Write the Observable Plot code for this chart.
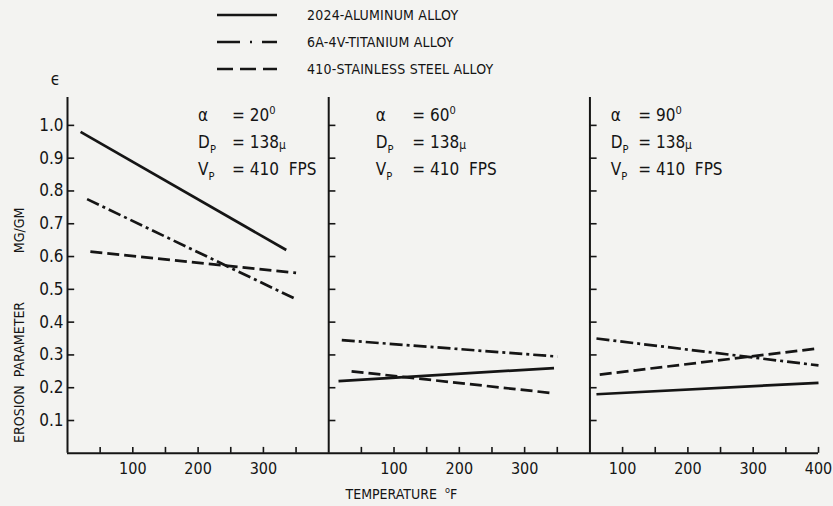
<!DOCTYPE html>
<html><head><meta charset="utf-8">
<script src="https://cdn.jsdelivr.net/npm/d3@7"></script>
<script src="https://cdn.jsdelivr.net/npm/@observablehq/plot@0.6"></script>
<style>
html,body{margin:0;padding:0;background:#f3f3f1;}
#wrap{position:relative;width:833px;height:506px;overflow:hidden;font-family:"Liberation Sans Narrow","DejaVu Sans Condensed",sans-serif;color:#141414;}
#chart{position:absolute;left:0;top:0;}
#chart svg text{white-space:pre;}
#legend{position:absolute;left:217px;top:0;}
.row{position:absolute;left:0;height:20px;display:flex;align-items:center;white-space:nowrap;font-size:14px;letter-spacing:0.2px;}
.row svg{margin-right:30px;display:block;}
</style></head><body>
<div id="wrap"><div id="chart"></div><div id="legend"></div></div>
<script>
// ---- data ----
const alloys = ["2024-ALUMINUM ALLOY", "6A-4V-TITANIUM ALLOY", "410-STAINLESS STEEL ALLOY"];
const panelAngles = [20, 60, 90];
const particleDiameter = "138";
const particleVelocity = "410";
const panelTempRange = [[0, 400], [0, 400], [50, 400]];

const aluminumTemp    = [[20, 335], [15, 345], [60, 400]];
const aluminumErosion = [[0.98, 0.62], [0.22, 0.26], [0.18, 0.215]];
const titaniumTemp    = [[30, 350], [20, 350], [60, 400]];
const titaniumErosion = [[0.775, 0.47], [0.345, 0.295], [0.35, 0.268]];
const stainlessTemp    = [[35, 350], [35, 345], [65, 400]];
const stainlessErosion = [[0.615, 0.55], [0.25, 0.183], [0.24, 0.32]];

const yTicks = [0.1, 0.2, 0.3, 0.4, 0.5, 0.6, 0.7, 0.8, 0.9, 1.0];
const xMinorTicks = [[50, 100, 150, 200, 250, 300, 350], [50, 100, 150, 200, 250, 300, 350], [100, 150, 200, 250, 300, 350, 400]];
const xTickLabels = [[100, 200, 300], [100, 200, 300], [100, 200, 300, 400]];

// ---- derived ----
const ink = "#151515";
const dashStyles = ["none", "13,4,3,4", "12,5"];
const widths = panelTempRange.map(r => r[1] - r[0]);
const offsets = panelTempRange.map((r, i) => d3.sum(widths.slice(0, i)) - r[0]);
const total = d3.sum(widths);
const panelLeft = panelTempRange.map((r, i) => r[0] + offsets[i]);
const yMax = 1.085;

const seriesTemp = [aluminumTemp, titaniumTemp, stainlessTemp];
const seriesErosion = [aluminumErosion, titaniumErosion, stainlessErosion];
const lineData = [];
alloys.forEach((a, s) => panelAngles.forEach((ang, p) =>
  seriesTemp[s][p].forEach((T, j) => lineData.push({alloy: a, s, panel: p, x: T + offsets[p], e: seriesErosion[s][p][j]}))));

const minorComposite = xMinorTicks.flatMap((ts, p) => ts.map(t => t + offsets[p]));
const labelMap = new Map();
xTickLabels.forEach((ts, p) => ts.forEach(t => labelMap.set(t + offsets[p], String(t))));

// annotation layout (temperature units within each panel)
const annLabelT = [200, 72, 82];
const annEqT = [252, 128, 124];
const annRows = [
  {label: "α", value: p => `= ${panelAngles[p]}^0`, dy: 18},
  {label: "D_P", value: p => `= ${particleDiameter}~μ`, dy: 45},
  {label: "V_P", value: p => `= ${particleVelocity}  FPS`, dy: 72}
];
const panelIdx = panelAngles.map((_, i) => i);

const chart = Plot.plot({
  width: 833, height: 506,
  marginLeft: 67, marginRight: 15, marginTop: 97, marginBottom: 53.2,
  x: {domain: [0, total]},
  y: {domain: [0, yMax]},
  style: {background: "transparent", fontFamily: '"Liberation Sans Narrow","DejaVu Sans Condensed",sans-serif', color: ink},
  marks: [
    Plot.ruleY([0], {stroke: ink, strokeWidth: 2}),
    Plot.ruleX(panelLeft, {stroke: ink, strokeWidth: 2}),
    ...panelLeft.map(L => Plot.ruleY(yTicks, {y: d => d, x1: L, x2: L + 11, stroke: ink, strokeWidth: 1.6})),
    Plot.ruleX(minorComposite, {x: d => d, y1: 0, y2: 0.018, stroke: ink, strokeWidth: 1.6}),
    Plot.axisY({ticks: yTicks, tickFormat: d => d.toFixed(1), tickSize: 0, tickPadding: 4, fontSize: 17, label: null, fill: ink}),
    Plot.axisX({ticks: [...labelMap.keys()], tickFormat: d => labelMap.get(d), tickSize: 0, tickPadding: 9, fontSize: 16, label: null, fill: ink}),
    ...alloys.map((a, s) => Plot.line(lineData.filter(d => d.s === s), {
      x: "x", y: "e", z: "panel", stroke: ink, strokeWidth: 2.7, strokeDasharray: dashStyles[s], strokeLinecap: "butt"
    })),
    ...annRows.flatMap(r => [
      Plot.text(panelIdx, {x: p => annLabelT[p] + offsets[p], frameAnchor: "top", dy: r.dy, text: () => r.label, textAnchor: "start", lineAnchor: "middle", fontSize: 17, fill: ink}),
      Plot.text(panelIdx, {x: p => annEqT[p] + offsets[p], frameAnchor: "top", dy: r.dy, text: p => r.value(p), textAnchor: "start", lineAnchor: "middle", fontSize: 17, fill: ink})
    ]),
    Plot.text({length: 1}, {frameAnchor: "top-left", dx: -12, dy: -18, text: () => "ϵ", fontSize: 17, textAnchor: "middle", lineAnchor: "middle", fill: ink}),
    Plot.text({length: 1}, {frameAnchor: "left", dx: -48, dy: 97, rotate: -90, text: () => "EROSION  PARAMETER", fontSize: 14, textAnchor: "middle", lineAnchor: "middle", fill: ink}),
    Plot.text({length: 1}, {frameAnchor: "left", dx: -48, dy: -45, rotate: -90, text: () => "MG/GM", fontSize: 14, textAnchor: "middle", lineAnchor: "middle", fill: ink}),
    Plot.text({length: 1}, {frameAnchor: "bottom-left", dx: 278, dy: 41, text: () => "TEMPERATURE  ^oF", textAnchor: "start", fontSize: 14, lineAnchor: "middle", fill: ink})
  ]
});
document.getElementById("chart").appendChild(chart);

// rich text: _X subscript, ^X superscript, ~X small
function richText(svg) {
  const NS = "http://www.w3.org/2000/svg";
  svg.querySelectorAll("text").forEach(el => {
    const targets = el.querySelector("tspan") ? [...el.querySelectorAll("tspan")] : [el];
    targets.forEach(t => {
      const s = t.textContent;
      if (!/[_^~]/.test(s)) return;
      const fs = parseFloat(getComputedStyle(t).fontSize) || 16;
      while (t.firstChild) t.removeChild(t.firstChild);
      let cur = 0;
      const add = (txt, shift, scale) => {
        const ts = document.createElementNS(NS, "tspan");
        ts.textContent = txt;
        if (scale !== 1) ts.setAttribute("font-size", fs * scale);
        const d = shift - cur;
        if (d) ts.setAttribute("dy", d);
        cur = shift;
        t.appendChild(ts);
      };
      let buf = "";
      for (let i = 0; i < s.length; i++) {
        const c = s[i];
        if ((c === "_" || c === "^" || c === "~") && i + 1 < s.length) {
          if (buf) { add(buf, 0, 1); buf = ""; }
          const ch = s[++i];
          if (c === "_") add(ch, fs * 0.28, 0.65);
          else if (c === "^") add(ch, -fs * 0.38, 0.65);
          else add(ch, fs * 0.05, 0.7);
        } else buf += c;
      }
      if (buf) add(buf, 0, 1);
    });
  });
}
richText(chart);

// legend
const legend = document.getElementById("legend");
const legendDash = ["none", "23,10,2,10", "16,7"];
alloys.forEach((a, i) => {
  const row = document.createElement("div");
  row.className = "row";
  row.style.top = (5 + i * 27) + "px";
  const svg = d3.create("svg").attr("width", 60).attr("height", 6);
  svg.append("line").attr("x1", 0).attr("x2", 60).attr("y1", 3).attr("y2", 3)
    .attr("stroke", ink).attr("stroke-width", 2.6).attr("stroke-dasharray", legendDash[i]);
  row.appendChild(svg.node());
  const span = document.createElement("span");
  span.textContent = a;
  row.appendChild(span);
  legend.appendChild(row);
});
</script>
</body></html>
